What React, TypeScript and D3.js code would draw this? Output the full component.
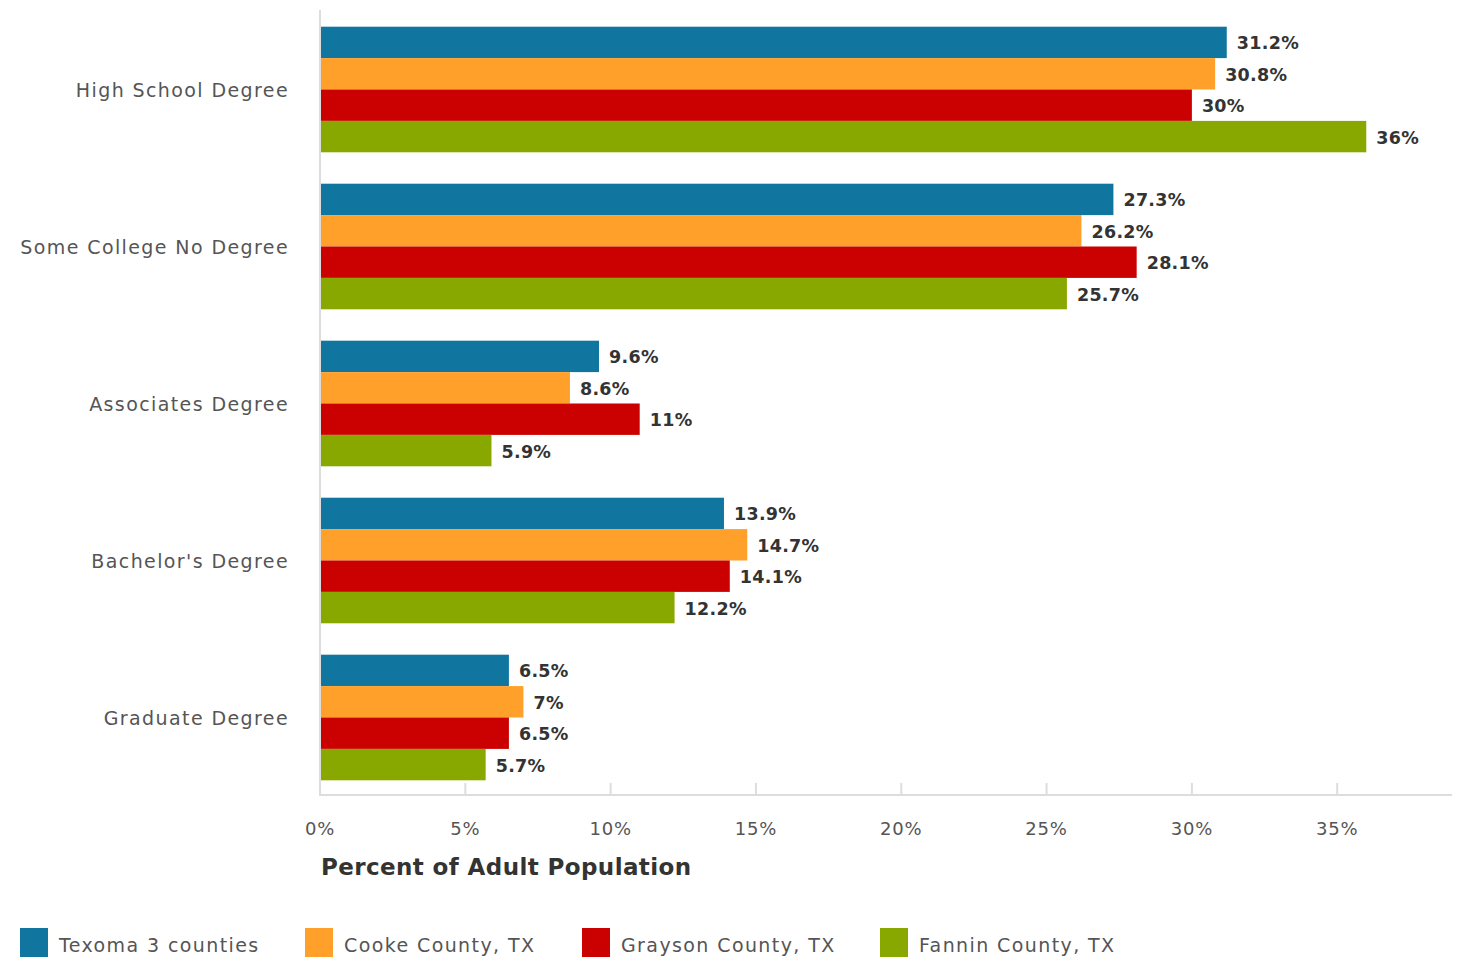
import React from "react";
import * as d3 from "d3";

const categories = ["High School Degree", "Some College No Degree", "Associates Degree", "Bachelor's Degree", "Graduate Degree"];
const seriesNames = ["Texoma 3 counties", "Cooke County, TX", "Grayson County, TX", "Fannin County, TX"];
const seriesColors = ["#10769f", "#fea02a", "#cb0000", "#88a800"];
const texoma = [31.2, 27.3, 9.6, 13.9, 6.5];
const cooke = [30.8, 26.2, 8.6, 14.7, 7];
const grayson = [30, 28.1, 11, 14.1, 6.5];
const fannin = [36, 25.7, 5.9, 12.2, 5.7];
const xTicks = [0, 5, 10, 15, 20, 25, 30, 35];

const seriesValues = [texoma, cooke, grayson, fannin];

const W = 1458, H = 962;
const font = "'DejaVu Sans', sans-serif";

export default function App() {
  const x = d3.scaleLinear().domain([0, 38.95]).range([320, 1452]);
  const y = d3.scaleBand<string>().domain(categories).range([11, 796]).paddingInner(0.2).paddingOuter(0.1);
  const ys = d3.scaleBand<number>().domain([0, 1, 2, 3]).range([0, y.bandwidth()]);
  const legendX = [20, 305, 582, 880];

  return (
    <svg width={W} height={H} style={{ position: "absolute", left: 0, top: 0, background: "#fff" }}>
      {categories.map((c, ci) => (
        <g key={c}>
          {seriesValues.map((vals, si) => (
            <rect key={si} x={x(0)} y={(y(c) as number) + (ys(si) as number)} width={x(vals[ci]) - x(0)} height={ys.bandwidth()} fill={seriesColors[si]} />
          ))}
          <text x={289} y={(y(c) as number) + y.bandwidth() / 2} textAnchor="end" dominantBaseline="central" fontFamily={font} fontSize={19} letterSpacing={1.4} fill="#555">{c}</text>
          {seriesValues.map((vals, si) => (
            <text key={"l" + si} x={x(vals[ci]) + 10} y={(y(c) as number) + (ys(si) as number) + ys.bandwidth() / 2 + 1} dominantBaseline="central" fontFamily={font} fontSize={17.5} fontWeight="bold" letterSpacing={0.3} fill="#333" stroke="#fff" strokeWidth={2} paintOrder="stroke">{vals[ci] + "%"}</text>
          ))}
        </g>
      ))}
      <line x1={320} x2={320} y1={10} y2={796} stroke="#ddd" strokeWidth={2} />
      <line x1={319} x2={1452} y1={795} y2={795} stroke="#ddd" strokeWidth={2} />
      {xTicks.map((t) => (
        <g key={t}>
          <line x1={x(t)} x2={x(t)} y1={783} y2={795} stroke="#ddd" strokeWidth={2} />
          <text x={x(t)} y={828} textAnchor="middle" dominantBaseline="central" fontFamily={font} fontSize={18} letterSpacing={0.8} fill="#555">{t + "%"}</text>
        </g>
      ))}
      <text x={321} y={867} dominantBaseline="central" fontFamily={font} fontSize={23} fontWeight="bold" letterSpacing={0.4} fill="#333">Percent of Adult Population</text>
      {seriesNames.map((n, i) => (
        <g key={n}>
          <rect x={legendX[i]} y={928} width={28} height={29} fill={seriesColors[i]} />
          <text x={legendX[i] + 39} y={945} dominantBaseline="central" fontFamily={font} fontSize={19} letterSpacing={1.4} fill="#555">{n}</text>
        </g>
      ))}
    </svg>
  );
}
